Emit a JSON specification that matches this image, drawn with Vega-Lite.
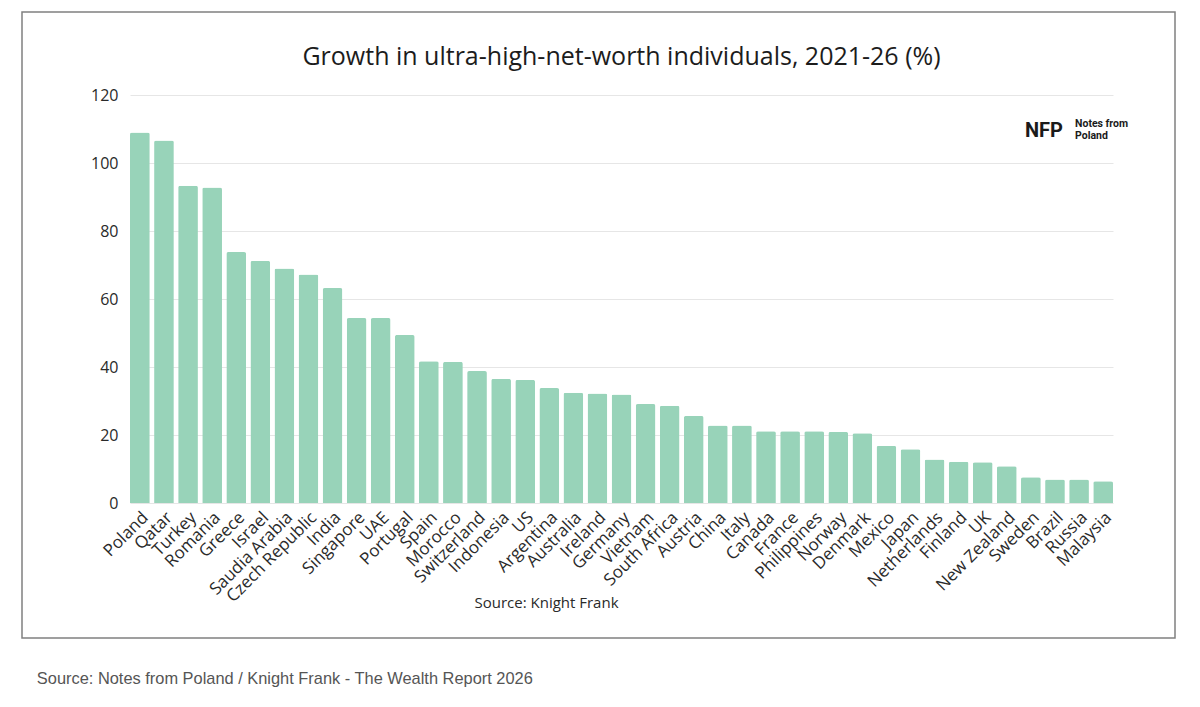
{
  "$schema": "https://vega.github.io/schema/vega-lite/v6.json",
  "width": 1153,
  "height": 626,
  "autosize": {"type": "none"},
  "padding": {"left": 22, "top": 12, "right": 25, "bottom": 69},
  "background": "white",
  "title": {
    "text": "Growth in ultra-high-net-worth individuals, 2021-26 (%)",
    "anchor": "middle",
    "frame": "group",
    "baseline": "alphabetic",
    "offset": -78,
    "dx": 23,
    "font": "Open Sans",
    "fontSize": 25,
    "fontWeight": "normal",
    "color": "#1c1c1c"
  },
  "datasets": {
    "growth": [
      {"country": "Poland", "growth": 109},
      {"country": "Qatar", "growth": 106.6},
      {"country": "Turkey", "growth": 93.3},
      {"country": "Romania", "growth": 92.8},
      {"country": "Greece", "growth": 73.8},
      {"country": "Israel", "growth": 71.2},
      {"country": "Saudia Arabia", "growth": 69},
      {"country": "Czech Republic", "growth": 67.2},
      {"country": "India", "growth": 63.2},
      {"country": "Singapore", "growth": 54.4},
      {"country": "UAE", "growth": 54.4},
      {"country": "Portugal", "growth": 49.4},
      {"country": "Spain", "growth": 41.7},
      {"country": "Morocco", "growth": 41.5},
      {"country": "Switzerland", "growth": 38.8},
      {"country": "Indonesia", "growth": 36.5},
      {"country": "US", "growth": 36.2},
      {"country": "Argentina", "growth": 33.8},
      {"country": "Australia", "growth": 32.4},
      {"country": "Ireland", "growth": 32.2},
      {"country": "Germany", "growth": 31.9},
      {"country": "Vietnam", "growth": 29.1},
      {"country": "South Africa", "growth": 28.6},
      {"country": "Austria", "growth": 25.6},
      {"country": "China", "growth": 22.8},
      {"country": "Italy", "growth": 22.8},
      {"country": "Canada", "growth": 21.1},
      {"country": "France", "growth": 21.1},
      {"country": "Philippines", "growth": 21.1},
      {"country": "Norway", "growth": 20.9},
      {"country": "Denmark", "growth": 20.5},
      {"country": "Mexico", "growth": 16.8},
      {"country": "Japan", "growth": 15.8},
      {"country": "Netherlands", "growth": 12.8},
      {"country": "Finland", "growth": 12.1},
      {"country": "UK", "growth": 12},
      {"country": "New Zealand", "growth": 10.8},
      {"country": "Sweden", "growth": 7.6},
      {"country": "Brazil", "growth": 6.9},
      {"country": "Russia", "growth": 6.9},
      {"country": "Malaysia", "growth": 6.4}
    ],
    "notes": [
      {"note": "Source: Notes from Poland / Knight Frank - The Wealth Report 2026"}
    ],
    "logo": [
      {"label": "NFP"}
    ],
    "logo_name": [
      {"label": ["Notes from", "Poland"]}
    ]
  },
  "layer": [
    {
      "data": {"name": "growth"},
      "mark": {"type": "bar", "color": "#98d3b9", "cornerRadiusTopLeft": 2, "cornerRadiusTopRight": 2},
      "encoding": {
        "x": {
          "field": "country",
          "type": "nominal",
          "scale": {
            "domain": ["Poland", "Qatar", "Turkey", "Romania", "Greece", "Israel", "Saudia Arabia", "Czech Republic", "India", "Singapore", "UAE", "Portugal", "Spain", "Morocco", "Switzerland", "Indonesia", "US", "Argentina", "Australia", "Ireland", "Germany", "Vietnam", "South Africa", "Austria", "China", "Italy", "Canada", "France", "Philippines", "Norway", "Denmark", "Mexico", "Japan", "Netherlands", "Finland", "UK", "New Zealand", "Sweden", "Brazil", "Russia", "Malaysia"],
            "range": [108, 1091],
            "paddingInner": 0.18,
            "paddingOuter": 0
          },
          "axis": {
            "orient": "bottom",
            "offset": -135,
            "labelAngle": -45,
            "labelFont": "Open Sans",
            "labelFontSize": 17,
            "labelColor": "#2a2a2a",
            "labelPadding": 6,
            "ticks": false,
            "domain": false,
            "title": "Source: Knight Frank",
            "titleX": 524,
            "titleY": 104,
            "titleAnchor": "middle",
            "titleBaseline": "alphabetic",
            "titleFont": "Open Sans",
            "titleFontSize": 15,
            "titleFontWeight": "normal",
            "titleColor": "#2a2a2a"
          }
        },
        "y": {
          "field": "growth",
          "type": "quantitative",
          "scale": {"domain": [0, 120], "range": [491, 83]},
          "axis": {
            "offset": -108,
            "values": [0, 20, 40, 60, 80, 100, 120],
            "ticks": false,
            "domain": false,
            "labelPadding": 12,
            "labelFont": "Open Sans",
            "labelFontSize": 16,
            "labelColor": "#2a2a2a",
            "gridColor": "#e6e6e6",
            "title": null
          }
        }
      }
    },
    {
      "data": {"name": "notes"},
      "mark": {"type": "text", "align": "left", "baseline": "alphabetic", "dx": -103, "font": "Liberation Sans", "fontSize": 16.4, "color": "#555555"},
      "encoding": {
        "x": {"datum": "Poland"},
        "y": {"datum": -53.2},
        "text": {"field": "note"}
      }
    },
    {
      "data": {"name": "logo"},
      "mark": {"type": "text", "align": "center", "baseline": "alphabetic", "dx": 13, "font": "Roboto", "fontWeight": "bold", "fontSize": 20, "color": "#1a1a1a"},
      "encoding": {
        "x": {"datum": "Sweden"},
        "y": {"datum": 107.6},
        "text": {"field": "label"}
      }
    },
    {
      "data": {"name": "logo_name"},
      "mark": {"type": "text", "align": "left", "baseline": "alphabetic", "dx": -4, "font": "Roboto", "fontWeight": "bold", "fontSize": 10.5, "lineHeight": 12, "color": "#1a1a1a"},
      "encoding": {
        "x": {"datum": "Russia"},
        "y": {"datum": 110.6},
        "text": {"field": "label"}
      }
    }
  ],
  "config": {
    "view": {"stroke": "#808080", "strokeWidth": 1.5}
  }
}
